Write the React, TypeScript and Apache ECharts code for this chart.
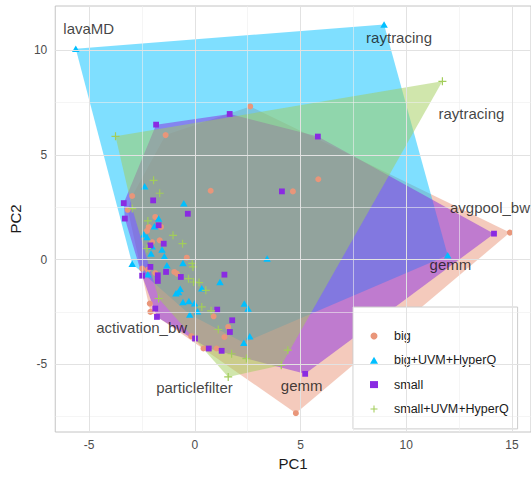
import React, { useEffect, useRef } from "react";
import * as echarts from "echarts";

// PCA scores (PC1, PC2) per benchmark configuration
const groupNames = ["big", "big+UVM+HyperQ", "small", "small+UVM+HyperQ"];

const bigScores: [number, number][] = [
  [2.62, 7.32], [-1.38, 5.95], [-2.96, 3.04], [0.75, 3.29], [5.84, 3.84],
  [4.64, 3.26], [14.9, 1.29], [4.78, -7.34], [-3.17, 2.38], [-1.87, 2.04],
  [-1.6, 1.56], [-2.18, 1.56], [-2.26, 1.37], [-2.02, 0.84], [-1.66, 0.92],
  [-0.38, 0.09], [-2.49, -0.43], [-2.22, -0.48], [-1.87, -0.64], [-0.97, -0.59],
  [-0.85, -0.67], [-2.13, -2.1], [-2.1, -2.5], [-0.17, -3.66], [0.41, -4.25],
  [1.03, -4.25], [0.89, -2.71], [1.58, -3.22], [1.4, -3.7],
];

const bigUvmScores: [number, number][] = [
  [-5.63, 10.08], [8.95, 11.24], [11.96, 0.21], [3.42, 0.05], [-2.37, 3.5],
  [-0.52, 2.69], [-1.71, 1.96], [-1.91, 1.59], [-2.41, 1.21], [-2.26, 1.08],
  [-2.02, 0.64], [-1.55, 0.48], [-2.07, 0.29], [-1.44, 0.16], [-2.96, -0.2],
  [-2.22, -0.7], [-1.32, -0.27], [-0.56, -0.16], [-0.77, -1.55], [-0.69, -1.39],
  [-0.89, -1.61], [0.33, -1.37], [1.19, -1.07], [-0.56, -2.03], [-0.28, -1.98],
  [-0.01, -2.09], [0.13, -2.47], [-0.24, -2.63], [2.34, -2.1], [2.52, -2.34],
  [2.6, -3.66], [2.32, -3.97],
];

const smallScores: [number, number][] = [
  [-1.83, 6.45], [1.65, 6.96], [5.82, 5.88], [4.12, 3.26], [14.15, 1.24],
  [5.22, -5.46], [-3.36, 2.7], [-1.97, 2.83], [-0.33, 2.19], [-3.31, 1.96],
  [-1.71, 1.64], [-2.1, 0.68], [-1.47, 0.76], [-2.1, -0.35], [-2.49, -0.77],
  [-1.75, -0.75], [-1.75, -1.02], [-1.36, -0.59], [-0.66, -0.83], [1.4, -0.72],
  [-1.87, -2.34], [-1.79, -2.74], [1.06, -2.39], [1.77, -2.9], [1.66, -3.46],
  [0.01, -3.77], [0.66, -4.25], [1.27, -4.36],
];

const smallUvmScores: [number, number][] = [
  [-3.75, 5.89], [11.71, 8.52], [-1.95, 3.79], [-1.66, 3.17], [-2.96, 2.44],
  [-2.22, 1.85], [-2.26, 0.53], [-1.03, 1.16], [-0.58, 0.76], [-0.09, -0.35],
  [-0.12, -0.18], [-0.3, -0.91], [-0.06, -1.07], [0.2, -1.1], [0.52, -1.47],
  [-1.71, -1.86], [0.33, -2.26], [0.77, -2.45], [1.11, -3.34], [1.74, -4.5],
  [2.44, -4.73], [4.4, -4.33], [4.09, -5.05], [1.58, -5.61],
];

// Benchmark names placed next to the extreme points
const labelTexts = [
  "lavaMD", "raytracing", "raytracing", "avgpool_bw",
  "gemm", "gemm", "activation_bw", "particlefilter",
];
const labelPoints: [number, number][] = [
  [-5.63, 10.08], [8.95, 11.24], [11.71, 8.52], [14.15, 1.24],
  [11.96, 0.21], [5.22, -5.46], [-1.87, -2.34], [1.58, -5.61],
];

const xTicks = [-5, 0, 5, 10, 15];
const yTicks = [-5, 0, 5, 10];
const xMinorLines = [-2.5, 2.5, 7.5, 12.5];
const yMinorLines = [-7.5, -2.5, 2.5, 7.5];

// Pixel offsets of each name from its point
const labelOffsets: [number, number][] = [
  [13, -20], [15, 12.7], [29, 32], [-4, -26.6],
  [2.7, 9.3], [-3.5, 11.5], [-13.6, 19], [-33.7, 10.6],
];

const colors = ["#E9967A", "#00BFFF", "#8A2BE2", "#A2CD5A"];
const hullFills = [
  "rgba(233,150,122,0.5)",
  "rgba(0,191,255,0.5)",
  "rgba(138,43,226,0.5)",
  "rgba(162,205,90,0.5)",
];
const PLUS = "path://M3.4,0H4.6V3.4H8V4.6H4.6V8H3.4V4.6H0V3.4H3.4Z";
const symbols = ["circle", "triangle", "rect", PLUS];
const symbolSizes: (number | number[])[] = [6, [7.5, 6.5], 5.8, 8];

const FONT = "Liberation Sans, Arial, Helvetica, sans-serif";

function convexHull(pts: [number, number][]): [number, number][] {
  const p = [...pts].sort((a, b) => a[0] - b[0] || a[1] - b[1]);
  const cross = (o: number[], a: number[], b: number[]) =>
    (a[0] - o[0]) * (b[1] - o[1]) - (a[1] - o[1]) * (b[0] - o[0]);
  const lower: [number, number][] = [];
  for (const q of p) {
    while (lower.length >= 2 && cross(lower[lower.length - 2], lower[lower.length - 1], q) <= 0) lower.pop();
    lower.push(q);
  }
  const upper: [number, number][] = [];
  for (let i = p.length - 1; i >= 0; i--) {
    const q = p[i];
    while (upper.length >= 2 && cross(upper[upper.length - 2], upper[upper.length - 1], q) <= 0) upper.pop();
    upper.push(q);
  }
  upper.pop();
  lower.pop();
  return lower.concat(upper);
}

export default function App() {
  const ref = useRef<HTMLDivElement>(null);

  useEffect(() => {
    if (!ref.current) return;
    const chart = echarts.init(ref.current, null, { renderer: "svg" });
    const groupData = [bigScores, bigUvmScores, smallScores, smallUvmScores];

    const hullSeries = groupData.map((pts, gi) => {
      const hull = convexHull(pts);
      return {
        name: groupNames[gi] + " hull",
        type: "custom",
        coordinateSystem: "cartesian2d",
        silent: true,
        z: 1 + gi * 0.01,
        data: [[hull[0][0], hull[0][1]]],
        renderItem: (_params: any, api: any) => ({
          type: "polygon",
          shape: { points: hull.map((h) => api.coord(h)) },
          style: { fill: hullFills[gi], stroke: "none" },
        }),
      };
    });

    const pointSeries = groupData.map((pts, gi) => ({
      name: groupNames[gi],
      type: "scatter",
      data: pts,
      symbol: symbols[gi],
      symbolSize: symbolSizes[gi],
      itemStyle: { color: colors[gi], opacity: 1 },
      z: 3,
      silent: true,
    }));

    const gridLines = [
      ...xMinorLines.map((v) => ({ xAxis: v, lineStyle: { color: "#EFEFEF", width: 0.6 } })),
      ...yMinorLines.map((v) => ({ yAxis: v, lineStyle: { color: "#EFEFEF", width: 0.6 } })),
      ...xTicks.map((v) => ({ xAxis: v, lineStyle: { color: "#E2E2E2", width: 1 } })),
      ...yTicks.map((v) => ({ yAxis: v, lineStyle: { color: "#E2E2E2", width: 1 } })),
    ];

    const gridSeries = {
      name: "gridlines",
      type: "scatter",
      data: [[0, 0]],
      symbolSize: 0,
      itemStyle: { color: "transparent" },
      silent: true,
      z: 0,
      markLine: {
        silent: true,
        symbol: ["none", "none"],
        label: { show: false },
        lineStyle: { type: "solid" },
        emphasis: { disabled: true },
        data: gridLines,
      },
    };

    const labelSeries = {
      name: "names",
      type: "scatter",
      data: labelPoints.map((p, i) => ({ value: p, name: labelTexts[i] })),
      symbolSize: 1,
      itemStyle: { color: "transparent" },
      silent: true,
      z: 5,
      label: {
        show: true,
        position: "inside",
        formatter: (p: any) => p.name,
        color: "#111111",
        fontSize: 15,
        fontFamily: FONT,
      },
      labelLayout: (p: any) => {
        const o = labelOffsets[p.dataIndex];
        return { dx: o[0], dy: o[1] };
      },
    };

    chart.setOption({
      animation: false,
      backgroundColor: "#FFFFFF",
      textStyle: { fontFamily: FONT },
      grid: {
        left: 52,
        right: 0,
        top: 6,
        bottom: 45,
        show: true,
        borderColor: "#C4C4C4",
        borderWidth: 1,
        backgroundColor: "transparent",
      },
      xAxis: {
        type: "value",
        min: -6.6,
        max: 15.9,
        name: "PC1",
        nameLocation: "middle",
        nameGap: 23,
        nameTextStyle: { color: "#1A1A1A", fontSize: 15, fontFamily: FONT },
        axisLine: { show: false },
        axisTick: { show: true, customValues: xTicks, length: 4, lineStyle: { color: "#B3B3B3" } },
        axisLabel: { customValues: xTicks, margin: 7, color: "#4D4D4D", fontSize: 12, fontFamily: FONT },
        splitLine: { show: false },
      },
      yAxis: {
        type: "value",
        min: -8.24,
        max: 12.12,
        name: "PC2",
        nameLocation: "middle",
        nameGap: 22,
        nameRotate: 90,
        nameTextStyle: { color: "#1A1A1A", fontSize: 15, fontFamily: FONT },
        axisLine: { show: false },
        axisTick: { show: true, customValues: yTicks, length: 4, lineStyle: { color: "#B3B3B3" } },
        axisLabel: { customValues: yTicks, margin: 8, color: "#4D4D4D", fontSize: 12, fontFamily: FONT },
        splitLine: { show: false },
      },
      legend: {
        data: groupNames,
        orient: "vertical",
        left: 353,
        top: 307,
        padding: [22, 9, 13, 17],
        itemWidth: 8,
        itemHeight: 7,
        itemGap: 10.3,
        backgroundColor: "#FFFFFF",
        borderColor: "#CCCCCC",
        borderWidth: 1,
        selectedMode: false,
        textStyle: {
          color: "#1A1A1A",
          fontSize: 12.5,
          fontFamily: FONT,
          lineHeight: 14,
          padding: [0, 0, 0, 11],
        },
      },
      series: [gridSeries, ...hullSeries, ...pointSeries, labelSeries],
    });

    return () => chart.dispose();
  }, []);

  return (
    <div
      ref={ref}
      style={{ position: "fixed", left: 0, top: 0, width: 531, height: 477 }}
    />
  );
}
